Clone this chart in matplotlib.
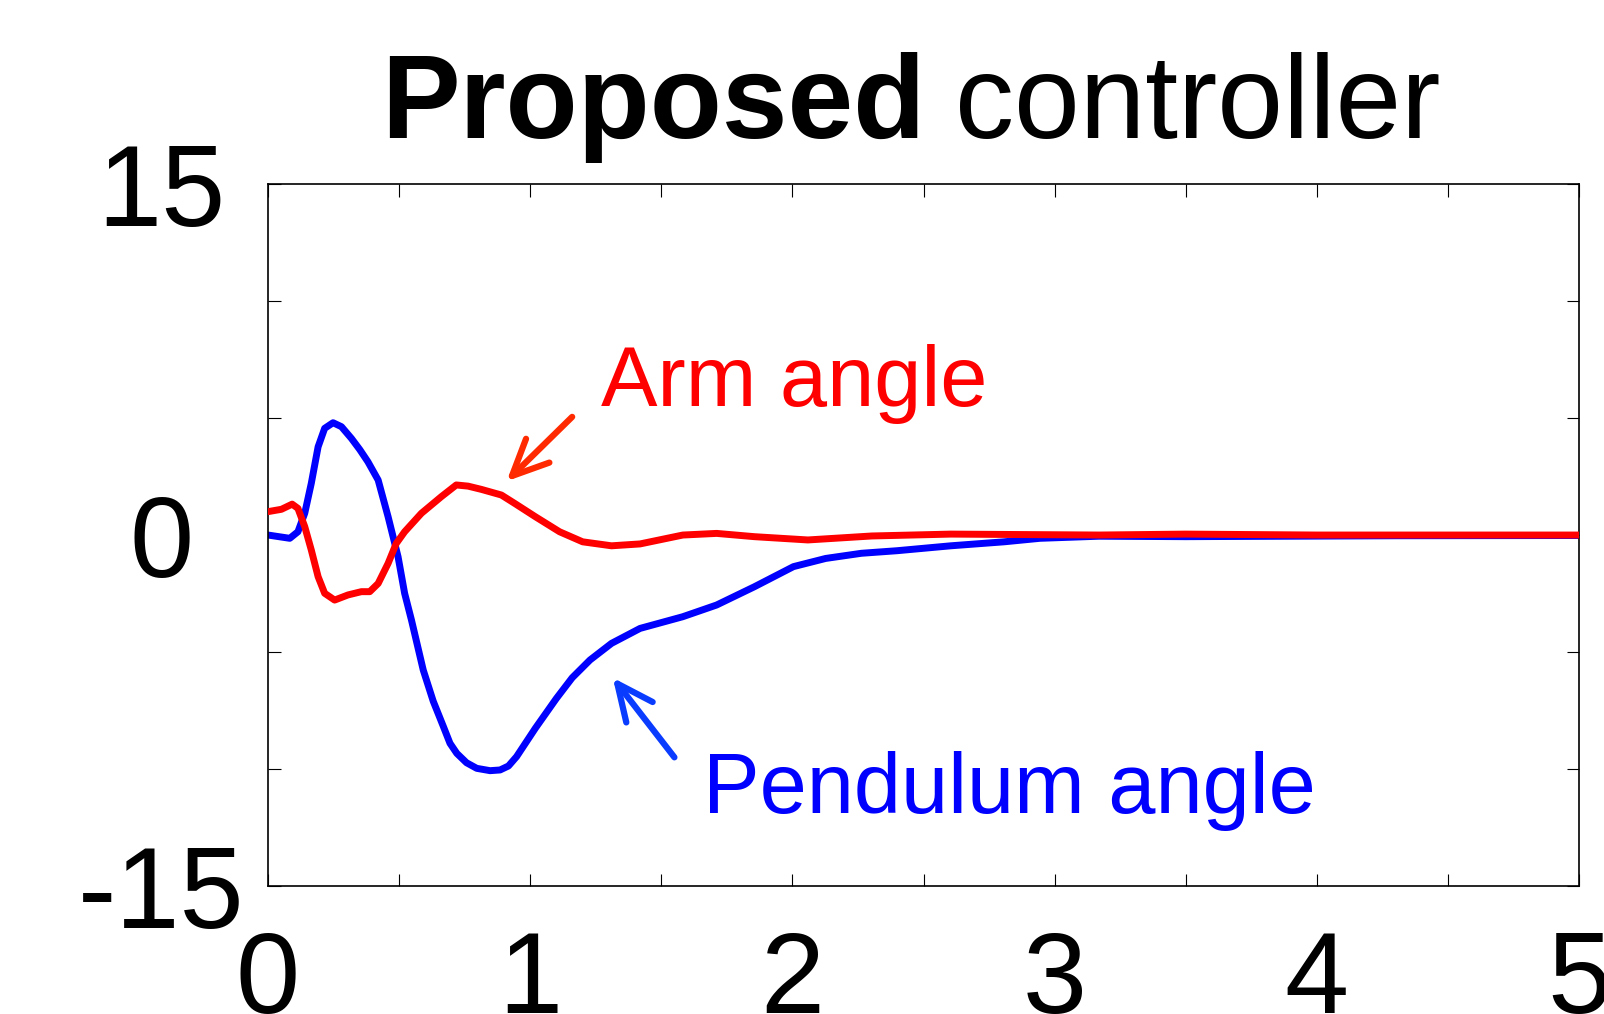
import numpy as np
import matplotlib
matplotlib.use("Agg")
import matplotlib.pyplot as plt

plt.rcParams['font.family'] = ['Liberation Sans', 'DejaVu Sans']

# time axis (s) and responses
t_pend = [0.0, 0.083, 0.114, 0.14, 0.165, 0.191, 0.216, 0.248, 0.28, 0.318, 0.35, 0.381,
          0.42, 0.458, 0.496, 0.521, 0.547, 0.592, 0.63, 0.669, 0.694, 0.72, 0.757, 0.796,
          0.847, 0.885, 0.917, 0.948, 1.02, 1.10, 1.16, 1.228, 1.31, 1.419, 1.582, 1.711,
          1.855, 2.004, 2.127, 2.263, 2.399, 2.604, 2.807, 2.944, 3.17, 3.5, 3.9, 4.3, 5.0]
pend = [0.0, -0.14, 0.14, 0.93, 2.21, 3.77, 4.56, 4.8, 4.63, 4.13, 3.65, 3.13,
        2.35, 0.78, -0.93, -2.49, -3.63, -5.77, -7.1, -8.19, -8.9, -9.33, -9.73, -9.97,
        -10.07, -10.04, -9.87, -9.47, -8.25, -6.98, -6.1, -5.34, -4.63, -3.99, -3.49, -2.99,
        -2.21, -1.35, -1.0, -0.78, -0.67, -0.46, -0.29, -0.14, -0.05, -0.07, -0.05, -0.03, -0.02]

t_arm = [0.0, 0.051, 0.092, 0.114, 0.14, 0.165, 0.191, 0.216, 0.254, 0.305, 0.356, 0.388,
         0.42, 0.458, 0.489, 0.521, 0.585, 0.661, 0.718, 0.763, 0.814, 0.89, 0.941, 1.02,
         1.112, 1.2, 1.31, 1.419, 1.582, 1.711, 1.855, 2.059, 2.303, 2.604, 3.17, 3.5,
         4.0, 5.0]
arm = [1.0, 1.1, 1.32, 1.14, 0.36, -0.64, -1.78, -2.49, -2.78, -2.56, -2.42, -2.42,
       -2.07, -1.21, -0.36, 0.14, 0.93, 1.64, 2.14, 2.09, 1.95, 1.71, 1.35, 0.78,
       0.14, -0.29, -0.46, -0.38, 0.0, 0.07, -0.07, -0.21, -0.04, 0.04, 0.0, 0.04,
       0.0, 0.0]

xticks = np.arange(0, 5.01, 0.5)
xlabels = ['0', '', '1', '', '2', '', '3', '', '4', '', '5']
yticks = [-15, -10, -5, 0, 5, 10, 15]
ylabels = ['-15', '', '', '0', '', '', '15']

fig = plt.figure(figsize=(16.04, 10.14), dpi=100)
ax = fig.add_axes([0.1671, 0.1262, 0.8173, 0.6923])

ax.plot(t_pend, pend, color='#0000ff', lw=5, zorder=2,
        solid_joinstyle='round', solid_capstyle='round')
ax.plot(t_arm, arm, color='#ff0000', lw=5, zorder=3,
        solid_joinstyle='round', solid_capstyle='round')

ax.set_xlim(0, 5)
ax.set_ylim(-15, 15)
ax.set_xticks(xticks)
ax.set_xticklabels(xlabels)
ax.set_yticks(yticks)
ax.set_yticklabels(ylabels, ha='center')
ax.tick_params(direction='in', length=9, width=0.8, top=True, right=True, labelsize=83)
ax.tick_params(axis='y', pad=77)
ax.tick_params(axis='x', pad=32)
for s in ax.spines.values():
    s.set_linewidth(1.2)

# annotations
ax.text(1.27, 5.5, 'Arm angle', color='#ff0000', fontsize=61, ha='left', va='baseline')
ax.text(1.66, -11.9, 'Pendulum angle', color='#0000ff', fontsize=61, ha='left', va='baseline')
ax.annotate('', xy=(0.91, 2.3), xytext=(1.16, 5.05),
            arrowprops=dict(arrowstyle='->,head_length=1.3,head_width=0.6',
                            color='#ff2a00', lw=4.5, mutation_scale=20,
                            shrinkA=0, shrinkB=0))
ax.annotate('', xy=(1.315, -6.1), xytext=(1.55, -9.5),
            arrowprops=dict(arrowstyle='->,head_length=1.3,head_width=0.6',
                            color='#0a3cff', lw=4.5, mutation_scale=20,
                            shrinkA=0, shrinkB=0))

# title: bold + regular parts
fig.text(925 / 1604, 1 - 138 / 1014, 'Proposed', fontsize=85, fontweight='bold',
         ha='right', va='baseline')
fig.text(955 / 1604, 1 - 138 / 1014, 'controller', fontsize=85,
         ha='left', va='baseline')

fig.savefig('out.png', dpi=100)
